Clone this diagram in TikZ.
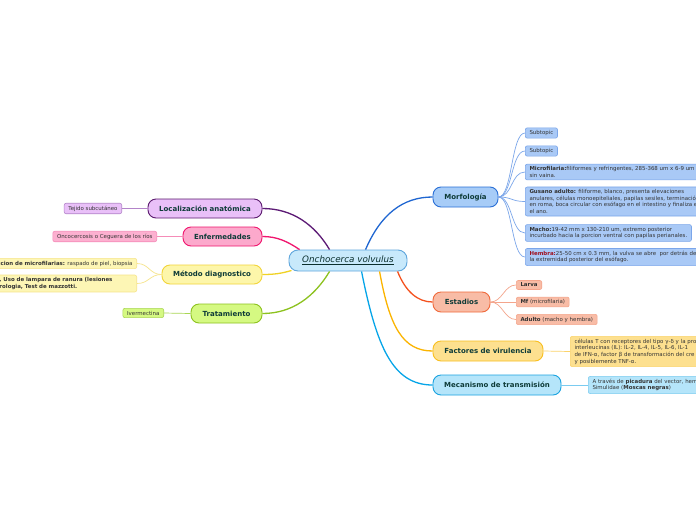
\documentclass[tikz,border=0pt]{standalone}
\usepackage{fontspec}
\setmainfont{DejaVu Sans}
\usetikzlibrary{calc}
\definecolor{maintext}{HTML}{0E3B38}
\definecolor{leaftext}{HTML}{333333}
\definecolor{cenfill}{HTML}{C8E9FB}
\definecolor{cendraw}{HTML}{5FA6DC}
\definecolor{morfill}{HTML}{A7CCF7}
\definecolor{mordraw}{HTML}{2A6FD6}
\definecolor{morline}{HTML}{1F66D1}
\definecolor{morleaf}{HTML}{A9C9F6}
\definecolor{morleafd}{HTML}{7BA6EA}
\definecolor{estfill}{HTML}{F8BCA6}
\definecolor{estdraw}{HTML}{F06A3C}
\definecolor{estline}{HTML}{F4511E}
\definecolor{estleafd}{HTML}{F4A58C}
\definecolor{facfill}{HTML}{FDE08F}
\definecolor{facdraw}{HTML}{F9BF1F}
\definecolor{facline}{HTML}{FBB400}
\definecolor{facleafd}{HTML}{FBD36A}
\definecolor{mecfill}{HTML}{B5E5FA}
\definecolor{mecdraw}{HTML}{1AA3E0}
\definecolor{mecline}{HTML}{06A5E8}
\definecolor{mecleafd}{HTML}{7ACBF0}
\definecolor{locfill}{HTML}{E9C0F8}
\definecolor{locdraw}{HTML}{5B1A6E}
\definecolor{locline}{HTML}{5C1A75}
\definecolor{locleafd}{HTML}{B384C9}
\definecolor{enffill}{HTML}{FCA9CC}
\definecolor{enfdraw}{HTML}{F0166E}
\definecolor{enfleaf}{HTML}{FCB0D0}
\definecolor{enfleafd}{HTML}{F58CB8}
\definecolor{metfill}{HTML}{FDF6AA}
\definecolor{metdraw}{HTML}{F2D43A}
\definecolor{metline}{HTML}{F0D225}
\definecolor{metleaf}{HTML}{FDF6B5}
\definecolor{metleafd}{HTML}{F6E48A}
\definecolor{trafill}{HTML}{D5F982}
\definecolor{tradraw}{HTML}{8DC21F}
\definecolor{traleafd}{HTML}{A9D654}
\definecolor{hembra}{HTML}{A0111F}
\begin{document}
\begin{tikzpicture}[x=1pt,y=-1pt,
  main/.style={rounded corners=8pt, draw, line width=0.9pt,
    font=\fontsize{7}{8}\selectfont\bfseries, text=maintext, inner sep=0pt},
  leaf/.style={rounded corners=2pt, draw, line width=0.6pt,
    font=\fontsize{5.45}{6.6}\selectfont, text=leaftext, align=left,
    inner xsep=4.2pt, inner ysep=2.5pt},
  conn/.style={line width=1.3pt},
  lconn/.style={line width=0.7pt}]
\useasboundingbox (0,0) rectangle (696,520);
\fill[white] (0,0) rectangle (696,520);

% central
\node[main, rounded corners=9pt, fill=cenfill, draw=cendraw, minimum width=118pt, minimum height=21pt,
  font=\fontsize{8.8}{10}\selectfont\itshape, text=maintext!80!black] (cen) at (348,260.5)
  {\underline{Onchocerca volvulus}};

% main topics
\node[main, fill=morfill, draw=mordraw, minimum width=65pt, minimum height=20pt] (morf) at (465.5,197) {Morfología};
\node[main, fill=estfill, draw=estdraw, minimum width=57pt, minimum height=20pt] (est) at (461.5,302) {Estadios};
\node[main, fill=facfill, draw=facdraw, minimum width=110pt, minimum height=20pt] (fac) at (488,351) {Factores de virulencia};
\node[main, fill=mecfill, draw=mecdraw, minimum width=128pt, minimum height=20pt] (mec) at (497,385) {Mecanismo de transmisión};
\node[main, fill=locfill, draw=locdraw, minimum width=114pt, minimum height=19pt] (loc) at (205,208.5) {Localización anatómica};
\node[main, fill=enffill, draw=enfdraw, minimum width=79pt, minimum height=19pt] (enf) at (222.5,236.5) {Enfermedades};
\node[main, fill=metfill, draw=metdraw, minimum width=100pt, minimum height=19pt] (met) at (212,274.5) {Método diagnostico};
\node[main, fill=trafill, draw=tradraw, minimum width=71pt, minimum height=19pt] (tra) at (226.5,313.5) {Tratamiento};

% main connectors
\draw[conn, morline] ($(cen.north west)+(77,0)$) .. controls +(15,-35) and +(-30,0) .. (morf.west);
\draw[conn, locline] ($(cen.north west)+(41,0)$) .. controls +(-15,-25) and +(30,0) .. (loc.east);
\draw[conn, enfdraw] ($(cen.north west)+(11,0)$) .. controls +(-12,-8) and +(15,0) .. (enf.east);
\draw[conn, metline] ($(cen.south west)+(3,-1)$) .. controls +(-10,3) and +(12,0) .. (met.east);
\draw[conn, tradraw] ($(cen.south west)+(41,0)$) .. controls +(-15,25) and +(30,0) .. (tra.east);
\draw[conn, estline] ($(cen.south west)+(109,0)$) .. controls +(8,20) and +(-15,0) .. (est.west);
\draw[conn, facline] ($(cen.south west)+(91,0)$) .. controls +(10,55) and +(-30,0) .. (fac.west);
\draw[conn, mecline] ($(cen.south west)+(73,0)$) .. controls +(15,75) and +(-40,0) .. (mec.west);

% Morfologia leaves
\begin{scope}[every node/.style={leaf, fill=morleaf, draw=morleafd, anchor=west}]
\node (s1) at (525,133) {Subtopic};
\node (s2) at (525,151) {Subtopic};
\node (mf) at (525,172) {\textbf{Microfilaria:}filiformes y refringentes, 285-368 um x 6-9 um\\sin vaina.};
\node (ga) at (525,201.5) {\textbf{Gusano adulto:} filiforme, blanco, presenta elevaciones\\anulares, células monoepiteliales, papilas sesiles, terminación\\en roma, boca circular con esófago en el intestino y finaliza en\\el ano.};
\node (ma) at (525,233) {\textbf{Macho:}19-42 mm x 130-210 um, extremo posterior\\incurbado hacia la porcion ventral con papilas perianales.};
\node (he) at (525,257) {\textbf{\textcolor{hembra}{Hembra:}}25-50 cm x 0.3 mm, la vulva se abre\ \ por detrás de\\la extremidad posterior del esófago.};
\end{scope}
\foreach \n in {s1,s2,mf,ga,ma,he}
  \draw[lconn, morleafd] (morf.east) .. controls +(14,0) and +(-14,0) .. (\n.west);

% Estadios leaves
\begin{scope}[every node/.style={leaf, fill=estfill, draw=estleafd, anchor=west}]
\node (la) at (516,285) {\textbf{Larva}};
\node (mi) at (516,302) {\textbf{Mf} (microfilaria)};
\node (ad) at (516,319.5) {\textbf{Adulto} (macho y hembra)};
\end{scope}
\foreach \n in {la,mi,ad}
  \draw[lconn, estleafd] (est.east) .. controls +(12,0) and +(-12,0) .. (\n.west);

% Factores leaf
\node[leaf, fill=facfill, draw=facleafd, anchor=west, text width=150pt] (fl) at (570,351.5)
  {células T con receptores del tipo γ-δ y la pro\\interleucinas (IL): IL-2, IL-4, IL-5, IL-6, IL-1\\de IFN-α, factor β de transformación del cre\\y posiblemente TNF-α.};
\draw[lconn, facleafd] (fac.east) -- (fl.west);

% Mecanismo leaf
\node[leaf, fill=mecfill, draw=mecleafd, anchor=west, text width=130pt] (ml) at (588,385)
  {A través de \textbf{picadura} del vector, hem\\Simulidae (\textbf{Moscas negras})};
\draw[lconn, mecleafd] (mec.east) -- (ml.west);

% Left leaves
\node[leaf, fill=locfill, draw=locleafd, anchor=east] (tej) at (122,208.5) {Tejido subcutáneo};
\draw[lconn, locleafd] (loc.west) -- (tej.east);
\node[leaf, fill=enfleaf, draw=enfleafd, anchor=east] (onc) at (157,236.5) {Oncocercosis o Ceguera de los ríos};
\draw[lconn, enfleafd] (enf.west) -- (onc.east);
\node[leaf, fill=metleaf, draw=metleafd, anchor=east] (d1) at (137,263.5)
  {\leavevmode\llap{\textbf{Detec}}\textbf{cion de microfilarias:} raspado de piel, biopsia};
\node[leaf, fill=metleaf, draw=metleafd, anchor=east, text width=133pt] (d2) at (137,283.5)
  {\leavevmode\llap{\textbf{Examen}}\textbf{, Uso de lampara de ranura (lesiones}\\\leavevmode\llap{\textbf{Se}}\textbf{rologia, Test de mazzotti.}};
\draw[lconn, metleafd] (met.west) .. controls +(-12,0) and +(12,0) .. (d1.east);
\draw[lconn, metleafd] (met.west) .. controls +(-12,0) and +(12,0) .. (d2.east);
\node[leaf, fill=trafill, draw=traleafd, anchor=east] (ive) at (164,313) {Ivermectina};
\draw[lconn, traleafd] (tra.west) -- (ive.east);
\end{tikzpicture}
\end{document}
